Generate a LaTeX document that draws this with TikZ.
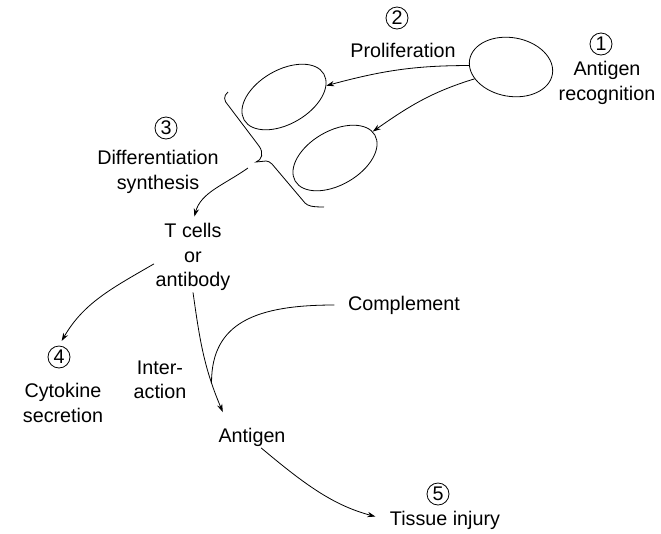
\documentclass[tikz,border=0pt]{standalone}
\usepackage{fontspec}
\setmainfont{Liberation Sans}
\usetikzlibrary{shapes.geometric,arrows.meta}
\begin{document}
\begin{tikzpicture}[x=0.75pt,y=0.75pt,line width=0.6pt,
  lbl/.style={align=center,inner sep=1pt,font=\fontsize{14.8}{18.3}\selectfont},
  num/.style={draw,circle,minimum size=16.5pt,inner sep=0pt,font=\fontsize{14.8}{16.5}\selectfont},
  cell/.style={draw,ellipse,inner sep=0pt},
  arr/.style={-{Stealth[length=6pt,width=4pt]}}]
        \useasboundingbox (0,0) rectangle (661,-533);
        % cells
        \node[cell,minimum width=63pt,minimum height=44pt,rotate=-10] (c1) at (511,-67) {};
        \node[cell,minimum width=69pt,minimum height=40.5pt,rotate=30] (c2) at (284,-97) {};
        \node[cell,minimum width=69pt,minimum height=40.5pt,rotate=30] (c3) at (335,-158) {};
        % numbers and labels
        \node[num] (n1) at (601,-44) {1};
        \node[lbl] (ant) at (607,-83) {Antigen\\recognition};
        \node[num] (n2) at (397,-18) {2};
        \node[lbl] (pro) at (403,-50) {Proliferation};
        \node[num] (n3) at (166,-128) {3};
        \node[lbl] (dif) at (158,-172) {Differentiation\\synthesis};
        \node[lbl] (tcell) at (193,-257) {T cells\\or\\antibody};
        \node[num] (n4) at (59,-357) {4};
        \node[lbl] (cyt) at (63,-403) {Cytokine\\secretion};
        \node[lbl] (int) at (160,-380) {Inter-\\action};
        \node[lbl] (cmp) at (404,-305) {Complement};
        \node[lbl] (ag) at (252,-437) {Antigen};
        \node[num] (n5) at (438,-494) {5};
        \node[lbl] (tis) at (445,-520) {Tissue injury};
        % brace
        \coordinate (from) at (248,-168);
        \draw (228,-92) .. controls (223,-96) and (224,-101) .. (228,-105) -- (259,-146)
          .. controls (264,-153) and (262,-160) .. (256,-162) -- (266,-161)
          .. controls (268,-161) and (270,-162) .. (272,-164) -- (305,-203)
          .. controls (308,-206) and (312,-207) .. (324,-207);
        % arrows
        \draw[arr] (c1.188) to[out=180,in=15] (c2.-15);
        \draw[arr] (c1.208) to[out=197,in=35] (c3.5);
        \draw[arr,shorten >=4pt] (from) to[out=215,in=75] (tcell.north);
        \draw[arr,shorten >=4pt] (tcell.190) to[out=210,in=60] (n4.north);
        \draw[arr] (tcell.south) to[out=-82,in=113] coordinate[pos=.76] (meet) ([shift={(6,14)}]ag.north west);
        \draw[shorten <=9pt] (cmp.west) .. controls +(-90,0) and +(0,60) .. (meet);
        \draw[arr,shorten >=10pt] (ag.-50) to[out=-40,in=165] (tis.west);
\end{tikzpicture}
\end{document}
